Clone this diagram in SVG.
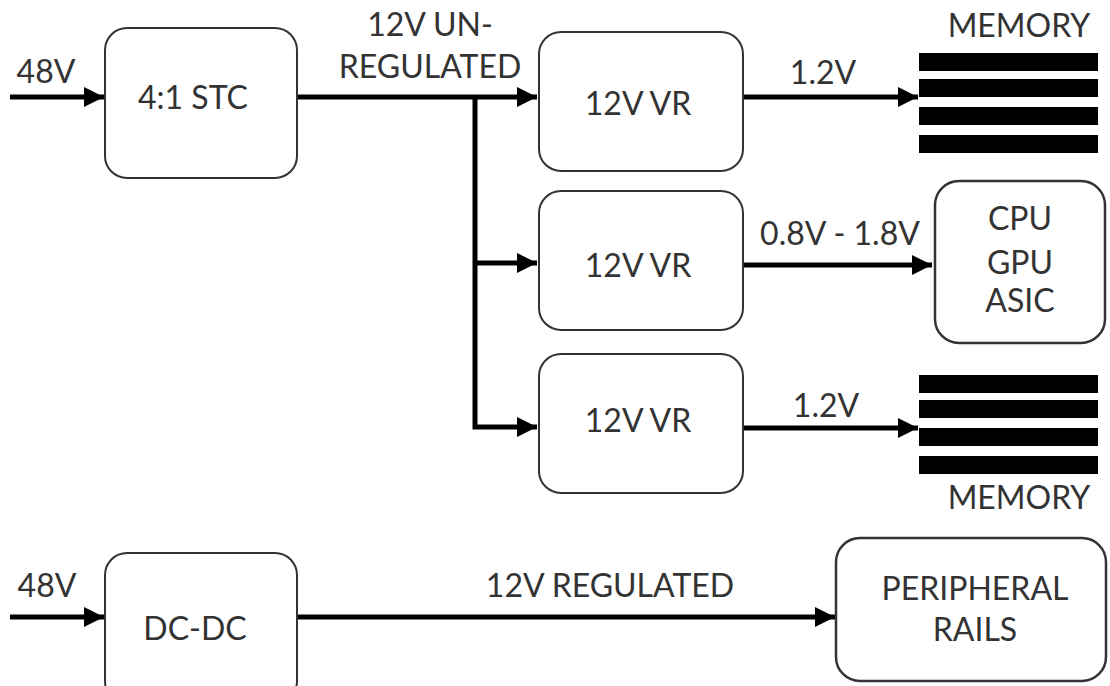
<svg xmlns="http://www.w3.org/2000/svg" width="1110" height="686" viewBox="0 0 1110 686">
<defs>
<style>
.box{fill:#fff;stroke:#333;stroke-width:2}
.wire{fill:none;stroke:#000;stroke-width:5}
.t{font-family:Lato,"Open Sans","Liberation Sans",sans-serif;font-size:32px;font-weight:400;fill:#333;text-anchor:middle}
.bar{fill:#000}
</style>
<marker id="ah" viewBox="0 0 10 10" refX="10" refY="5" markerWidth="4" markerHeight="4" orient="auto" markerUnits="strokeWidth">
<path d="M0,0 L10,5 L0,10 Z" fill="#000"/>
</marker>
</defs>
<rect width="1110" height="686" fill="#fff"/>
<g id="connectors">
<path class="wire" d="M10,97 H104" marker-end="url(#ah)"/>
<path class="wire" d="M297,97 H537" marker-end="url(#ah)"/>
<path class="wire" d="M475,97 V427 H537" marker-end="url(#ah)"/>
<path class="wire" d="M475,263 H537" marker-end="url(#ah)"/>
<path class="wire" d="M743,97 H918" marker-end="url(#ah)"/>
<path class="wire" d="M743,265 H932" marker-end="url(#ah)"/>
<path class="wire" d="M743,428 H918" marker-end="url(#ah)"/>
<path class="wire" d="M10,617 H104" marker-end="url(#ah)"/>
<path class="wire" d="M297,617 H835" marker-end="url(#ah)"/>
<text class="t" x="46" y="83">48V</text>
<text class="t" x="430" y="36">12V UN-</text>
<text class="t" x="430" y="78">REGULATED</text>
<text class="t" x="823" y="84">1.2V</text>
<text class="t" x="840" y="245">0.8V - 1.8V</text>
<text class="t" x="826" y="417">1.2V</text>
<text class="t" x="47" y="597">48V</text>
<text class="t" x="610" y="597">12V REGULATED</text>
</g>
<g id="stc"><rect class="box" x="105" y="28" width="192" height="150" rx="22"/><text class="t" x="193" y="109">4:1 STC</text></g>
<g id="vr1"><rect class="box" x="539" y="32" width="204" height="139" rx="22"/><text class="t" x="638" y="115">12V VR</text></g>
<g id="vr2"><rect class="box" x="539" y="191" width="204" height="139" rx="22"/><text class="t" x="638" y="277">12V VR</text></g>
<g id="vr3"><rect class="box" x="539" y="354" width="204" height="139" rx="22"/><text class="t" x="638" y="432">12V VR</text></g>
<g id="mem1"><text class="t" x="1019" y="37">MEMORY</text>
<rect class="bar" x="919" y="53" width="179" height="18"/><rect class="bar" x="919" y="79" width="179" height="18"/><rect class="bar" x="919" y="107" width="179" height="18"/><rect class="bar" x="919" y="135" width="179" height="18"/></g>
<g id="cpu"><rect class="box" x="935" y="181" width="170" height="162" rx="24" style="stroke-width:2.5"/><text class="t" x="1020" y="230">CPU</text><text class="t" x="1020" y="274">GPU</text><text class="t" x="1020" y="312">ASIC</text></g>
<g id="mem2"><rect class="bar" x="919" y="375" width="179" height="18"/><rect class="bar" x="919" y="400" width="179" height="18"/><rect class="bar" x="919" y="428" width="179" height="18"/><rect class="bar" x="919" y="456" width="179" height="18"/><text class="t" x="1019" y="509">MEMORY</text></g>
<g id="dcdc"><rect class="box" x="105" y="553" width="192" height="150" rx="22"/><text class="t" x="195" y="640">DC-DC</text></g>
<g id="periph"><rect class="box" x="836" y="538" width="270" height="143" rx="24" style="stroke-width:2.5"/><text class="t" x="975" y="600">PERIPHERAL</text><text class="t" x="975" y="641">RAILS</text></g>
</svg>
